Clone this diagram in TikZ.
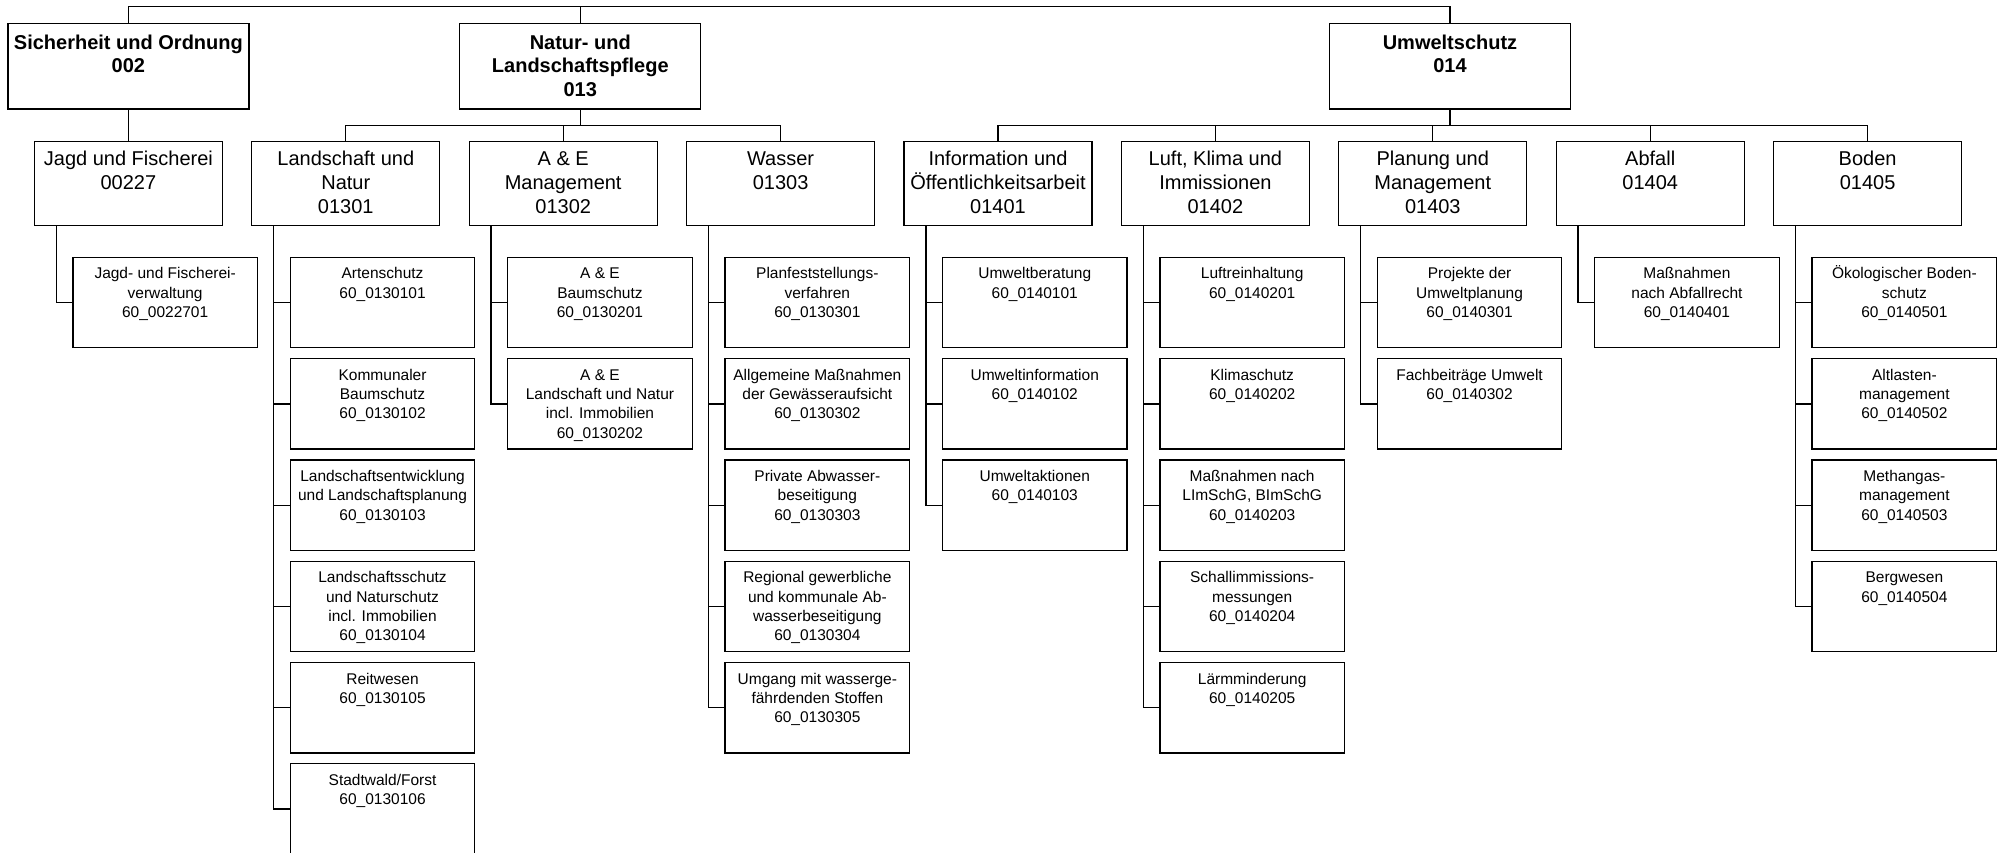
\documentclass[tikz,border=0pt]{standalone}
\usepackage{fontspec}
\setmainfont{Liberation Sans}
\tikzset{
  box/.style={draw=black, line width=1.3pt, inner sep=0pt, fill=white},
  l1box/.style={box, minimum width=241pt, minimum height=85.7pt},
  l2box/.style={box, minimum width=188pt, minimum height=83.6pt},
  l3box/.style={box, minimum width=184.5pt, minimum height=90.5pt},
  l1txt/.style={anchor=north, inner sep=0pt, align=center, font=\fontsize{20}{23.3}\selectfont\bfseries},
  l2txt/.style={anchor=north, inner sep=0pt, align=center, font=\fontsize{20}{24}\selectfont},
  l3txt/.style={anchor=north, inner sep=0pt, align=center, font=\fontsize{15.5}{19.3}\selectfont},
  conn/.style={draw=black, line width=1.3pt},
}
\newcommand\lone[4]{% name, center x, text
  \node[l1box] (#1) at (#2,66.15) {};
  \node[l1txt] (#1t) at ([yshift=-7.7pt]#1.north) {\rule{0pt}{19pt}#3};
}
\newcommand\ltwo[3]{% name index, text
  \node[l2box] (c#1) at ({34.4+217.4*#1+94},183.5) {};
  \node[l2txt] (c#1t) at ([yshift=-5.5pt]c#1.north) {\rule{0pt}{19pt}#2};
}
\newcommand\lthree[4]{% name, column, row, text
  \node[l3box] (#1) at ({34.4+217.4*#2+130.75},{302.55+101.3*#3}) {};
  \node[l3txt] (#1t) at ([yshift=-8pt]#1.north) {\rule{0pt}{14pt}#4};
  \draw[conn] ([xshift=22.5pt]c#2.south west) |- (#1.west);
}
\begin{document}
\begin{tikzpicture}[x=1pt, y=-1pt]
\useasboundingbox (0,0) rectangle (2002,852);
\clip (0,0) rectangle (2002,852);
\fill[white] (0,0) rectangle (2002,852);
\coordinate (topbus) at (0,6.7);
\coordinate (bus) at (0,125.7);

% level 1
\lone{sich}{128.4}{Sicherheit und Ordnung\\002}{}
\lone{natur}{580.3}{Natur- und\\Landschaftspflege\\013}{}
\lone{umw}{1450}{Umweltschutz\\014}{}

% level 2
\ltwo{0}{Jagd und Fischerei\\00227}{}
\ltwo{1}{Landschaft und\\Natur\\01301}{}
\ltwo{2}{A \& E\\Management\\01302}{}
\ltwo{3}{Wasser\\01303}{}
\ltwo{4}{Information und\\Öffentlichkeitsarbeit\\01401}{}
\ltwo{5}{Luft, Klima und\\Immissionen\\01402}{}
\ltwo{6}{Planung und\\Management\\01403}{}
\ltwo{7}{Abfall\\01404}{}
\ltwo{8}{Boden\\01405}{}

% top connectors
\draw[conn] (sich.north) -- (sich.north |- topbus) -- (umw.north |- topbus) -- (umw.north);
\draw[conn] (natur.north) -- (natur.north |- topbus);
\draw[conn] (sich.south) -- (c0.north);
\draw[conn] (natur.south) -- (natur.south |- bus);
\draw[conn] (c1.north) -- (c1.north |- bus) -- (c3.north |- bus) -- (c3.north);
\draw[conn] (c2.north) -- (c2.north |- bus);
\draw[conn] (umw.south) -- (umw.south |- bus);
\draw[conn] (c4.north) -- (c4.north |- bus) -- (c8.north |- bus) -- (c8.north);
\foreach \i in {5,6,7} \draw[conn] (c\i.north) -- (c\i.north |- bus);

% level 3
\lthree{j1}{0}{0}{Jagd- und Fischerei-\\verwaltung\\60\_0022701}

\lthree{l1}{1}{0}{Artenschutz\\60\_0130101}
\lthree{l2}{1}{1}{Kommunaler\\Baumschutz\\60\_0130102}
\lthree{l3}{1}{2}{Landschaftsentwicklung\\und Landschaftsplanung\\60\_0130103}
\lthree{l4}{1}{3}{Landschaftsschutz\\und Naturschutz\\incl. Immobilien\\60\_0130104}
\lthree{l5}{1}{4}{Reitwesen\\60\_0130105}
\lthree{l6}{1}{5}{Stadtwald/Forst\\60\_0130106}

\lthree{a1}{2}{0}{A \& E\\Baumschutz\\60\_0130201}
\lthree{a2}{2}{1}{A \& E\\Landschaft und Natur\\incl. Immobilien\\60\_0130202}

\lthree{w1}{3}{0}{Planfeststellungs-\\verfahren\\60\_0130301}
\lthree{w2}{3}{1}{Allgemeine Maßnahmen\\der Gewässeraufsicht\\60\_0130302}
\lthree{w3}{3}{2}{Private Abwasser-\\beseitigung\\60\_0130303}
\lthree{w4}{3}{3}{Regional gewerbliche\\und kommunale Ab-\\wasserbeseitigung\\60\_0130304}
\lthree{w5}{3}{4}{Umgang mit wasserge-\\fährdenden Stoffen\\60\_0130305}

\lthree{i1}{4}{0}{Umweltberatung\\60\_0140101}
\lthree{i2}{4}{1}{Umweltinformation\\60\_0140102}
\lthree{i3}{4}{2}{Umweltaktionen\\60\_0140103}

\lthree{k1}{5}{0}{Luftreinhaltung\\60\_0140201}
\lthree{k2}{5}{1}{Klimaschutz\\60\_0140202}
\lthree{k3}{5}{2}{Maßnahmen nach\\LImSchG, BImSchG\\60\_0140203}
\lthree{k4}{5}{3}{Schallimmissions-\\messungen\\60\_0140204}
\lthree{k5}{5}{4}{Lärmminderung\\60\_0140205}

\lthree{p1}{6}{0}{Projekte der\\Umweltplanung\\60\_0140301}
\lthree{p2}{6}{1}{Fachbeiträge Umwelt\\60\_0140302}

\lthree{f1}{7}{0}{Maßnahmen\\nach Abfallrecht\\60\_0140401}

\lthree{b1}{8}{0}{Ökologischer Boden-\\schutz\\60\_0140501}
\lthree{b2}{8}{1}{Altlasten-\\management\\60\_0140502}
\lthree{b3}{8}{2}{Methangas-\\management\\60\_0140503}
\lthree{b4}{8}{3}{Bergwesen\\60\_0140504}
\end{tikzpicture}
\end{document}
